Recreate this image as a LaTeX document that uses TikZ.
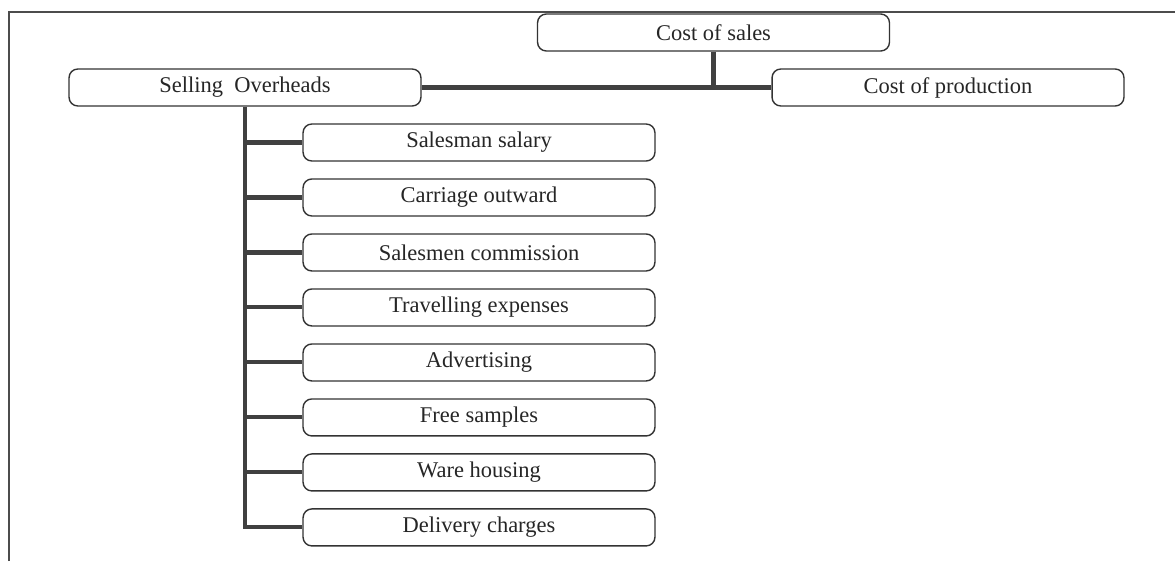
\documentclass[tikz,border=0pt]{standalone}
\usepackage{fontspec}
\setmainfont{Liberation Serif}
\usetikzlibrary{positioning}
\begin{document}
\begin{tikzpicture}[x=0.02cm, y=-0.02cm,
		box/.style = {draw=black!80, line width=0.8pt, rounded corners=5pt, text=black!85, font=\fontsize{12.8}{14}\selectfont, inner sep=0pt, minimum height=0.74cm, minimum width=7.04cm},
		link/.style = {draw=black!75, line width=2.3pt},
		node distance=1.1cm] 
		\useasboundingbox (0,0) rectangle (1175,561);
		\draw[black!70, line width=0.6pt] (9,561) -- (9,12) -- (1175,12);
		\node[box] (1) at (713.5,32.5) {Cost of sales}; 
		\node[box] (2) at (245,87.5) {Selling\ \ Overheads}; 
		\node[box] (3) at (948,87.5) {Cost of production}; 
		\node[box] (4) at (479,142.5) {Salesman salary}; 
		\node[box] (5) [below of=4] {Carriage outward}; 
		\node[box] (6) [below of=5] {Salesmen commission}; 
		\node[box] (7) [below of=6] {Travelling expenses}; 
		\node[box] (8) [below of=7] {Advertising}; 
		\node[box] (9) [below of=8] {Free samples}; 
		\node[box] (10) [below of=9] {Ware housing}; 
		\node[box] (11) [below of=10] {Delivery charges}; 
		\draw[link] (2) -- (3);
		\draw[link] (1) -- (1 |- 2);
		\draw[link] (2) |- (11);
		\foreach \n in {4,...,10}
			\draw[link] (2 |- \n) -- (\n);
	\end{tikzpicture}
\end{document}
